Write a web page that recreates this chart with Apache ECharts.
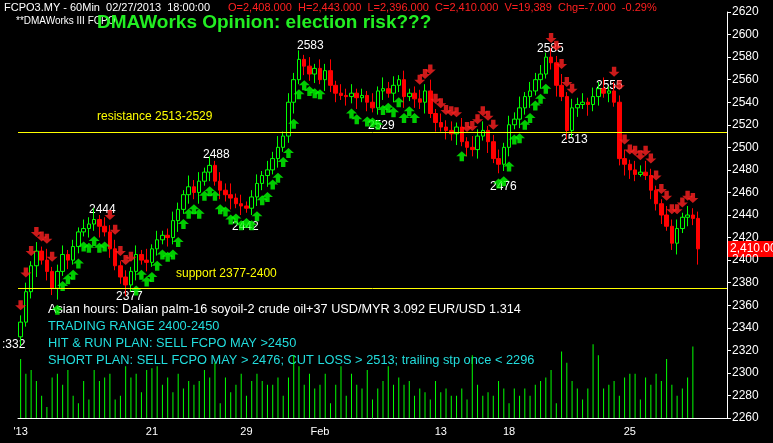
<!DOCTYPE html>
<html><head><meta charset="utf-8">
<script src="https://cdn.jsdelivr.net/npm/echarts@6/dist/echarts.min.js"></script>
<style>html,body{margin:0;padding:0;background:#000}#c{width:773px;height:443px}</style>
</head><body><div id="c"></div>
<script>
const closes = [2345,2372,2395,2408,2400,2390, 2375,2390,2405,2400,2412, 2425,2428,2432,2436,2430,2425,
 2410,2395,2385,2378,2390, 2405,2400,2398,2410,2418,2422, 2420,2435,2445,2458,2465,2460,
 2470,2478,2484,2470,2462, 2458,2455,2450,2448,2446,2456, 2468,2475,2480,2490,2500,2510,
 2540,2560,2578,2572,2565, 2570,2560,2568,2555,2548, 2546,2545,2548,2544,2546,2540,
 2535,2550,2552,2548,2555,2560, 2545,2548,2543,2540,2550,2530, 2522,2518,2515,2512,2518,2505,2500,
 2498,2510,2515,2505,2490,2485, 2500,2520,2525,2535,2545, 2550,2560,2565,2580,2575,
 2555,2545,2515,2535,2538, 2540,2538,2545,2552,2548,2550,2540, 2490,2485,2480,2476,2478,2475,
 2462,2450,2440,2430,2415, 2428,2438,2440,2437,2410];
const opens0 = 2332;
const wickUp = ("3424252342"+"3243524342"+"3242524234"+"3253424243"+"5242342435"+"2434242435"+"2434232425"+
  "3424234352"+"4342425342"+"3424352434"+"2435243424"+"352434243532"+"24342433").split('').map(Number);
const wickDn = ("4235243524"+"2324352423"+"5342423243"+"5243524243"+"5242343524"+"2352434253"+"4243524234"+
  "2435243524"+"2435243425"+"2434243524"+"2352434253"+"424235431243"+"42352437").split('').map(Number);
const signals = "DDDDDDDUUUUUUUUUUDDDDDUUUUUUUUUUUUUUUUUUUUUUUUUUUUUUUUUUUU00000UU0UUUUUUUUUUDDDDDDDDUDDDDDDUUUUUUUUUUDDDDD0000000DDDDDDDDDDDDDDDD";
const volumes = [16000,12000,13000,10000,6000,3000,11000,12000,9000,13000,6000,4000,10000,5000,13000,10000,11000,12000,5000,6000,
 14000,11000,12000,7000,13000,13500,14000,9000,11000,7000,12000,8000,10000,9000,10000,13000,11000,15000,4000,11000,
 7000,9000,12000,6000,10000,12000,10000,9000,9000,11000,6000,11000,17000,14000,9000,12000,8000,9000,12000,4000,
 9000,14000,6000,12000,9000,8000,13000,5000,8000,10000,14000,9000,11000,9000,10000,6000,8000,7000,5000,10000,
 7000,8000,6000,6000,8000,5000,17000,9000,6000,7000,6000,10000,8000,4000,8000,6000,8000,6000,9000,10000,
 11000,13000,4000,18000,15000,10000,8000,5000,8000,20000,17000,8000,9000,10000,6000,11000,12000,12000,5000,11000,
 9000,12000,10000,16000,9000,6000,8000,11000,19389];
const dateLabels = {0:"'13",25:"21",43:"29",57:"Feb",80:"13",93:"18",116:"25"};
const padBars = 5;
const categories = Array.from({length: closes.length + padBars}, (_, i) => dateLabels[i] || "");

const ohlc = closes.map((c,i)=>{
  const o = i===0 ? opens0 : closes[i-1];
  const h = Math.max(o,c) + 2*wickUp[i];
  const l = Math.min(o,c) - 2*wickDn[i];
  return [o,c,l,h];
});
const upArrows = [], dnArrows = [];
ohlc.forEach((d,i)=>{
  if (signals[i]==='U') upArrows.push([i, d[2]-9]);
  if (signals[i]==='D') dnArrows.push([i, d[3]+9]);
});
const arrow = 'path://M5,0 L10,5 L7,5 L7,10 L3,10 L3,5 L0,5 Z';

const chart = echarts.init(document.getElementById('c'));
const txt = (x,y,t,fill,size)=>({type:'text',left:x,top:y,style:{text:t,fill:fill,font:(size||12)+'px "Liberation Sans", Arial'}});
chart.setOption({
  backgroundColor:'#000',
  animation:false,
  grid:[{left:18,right:46,top:12,bottom:25},{left:18,right:46,top:12,bottom:25}],
  xAxis:[
    {type:'category',data:categories,gridIndex:0,boundaryGap:true,
     axisLine:{lineStyle:{color:'#fff'}},
     axisTick:{alignWithLabel:true,interval:(i,v)=>v!=="",lineStyle:{color:'#fff'}},
     axisLabel:{interval:0,color:'#fff',fontSize:11,fontFamily:'Liberation Sans'},splitLine:{show:false}},
    {type:'category',data:categories,gridIndex:1,show:false}
  ],
  yAxis:[
    {type:'value',position:'right',min:2260,max:2620,interval:20,gridIndex:0,
     axisLine:{show:true,lineStyle:{color:'#fff'}},axisTick:{show:true,length:4,lineStyle:{color:'#fff'}},
     axisLabel:{color:'#fff',fontSize:12,fontFamily:'Liberation Sans',margin:5,formatter:v=>String(v)},splitLine:{show:false}},
    {type:'value',min:0,max:110000,gridIndex:1,show:false,splitLine:{show:false}}
  ],
  series:[
    {type:'bar',xAxisIndex:1,yAxisIndex:1,data:volumes,barWidth:1,itemStyle:{color:'#00ff00'}},
    {type:'candlestick',data:ohlc,barWidth:4,
     itemStyle:{color:'#000',color0:'#ff0000',borderColor:'#00ff00',borderColor0:'#ff0000',borderWidth:1},
     markLine:{silent:true,symbol:'none',label:{show:false},lineStyle:{color:'#ffff00',type:'solid',width:1},
       data:[{yAxis:2513},{yAxis:2375}]}},
    {type:'scatter',data:upArrows,symbol:arrow,symbolSize:[11,10],itemStyle:{color:'#00ff00'}},
    {type:'scatter',data:dnArrows,symbol:arrow,symbolRotate:180,symbolSize:[11,10],itemStyle:{color:'#ff2020'}}
  ],
  graphic:[
    txt(4,2,'FCPO3.MY - 60Min  02/27/2013  18:00:00','#fff',11),
    txt(228,2,'O=2,408.000  H=2,443.000  L=2,396.000  C=2,410.000  V=19,389  Chg=-7.000  -0.29%','#ff2020',11),
    txt(16,16,'**DMAWorks III FCPO','#fff',10),
    {type:'text',left:97,top:13,style:{text:'DMAWorks Opinion: election risk???',fill:'#22ee22',font:'bold 19px "Liberation Sans", Arial'}},
    txt(97,111,'resistance 2513-2529','#ffff00',12),
    txt(176,268,'support 2377-2400','#ffff00',12),
    txt(48,303,'Asian hours: Dalian palm-16 soyoil-2 crude oil+37 USD/MYR 3.092 EUR/USD 1.314','#fff',12.7),
    txt(48,320,'TRADING RANGE 2400-2450','#22dddd',12.8),
    txt(48,337,'HIT & RUN PLAN: SELL FCPO MAY >2450','#22dddd',12.8),
    txt(48,354,'SHORT PLAN: SELL FCPO MAY > 2476; CUT LOSS > 2513; trailing stp once < 2296','#22dddd',12.8),
    txt(2,339,':332','#fff',12),
    txt(297,40,'2583','#fff',12), txt(537,43,'2585','#fff',12), txt(596,80,'2555','#fff',12),
    txt(368,120,'2529','#fff',12), txt(561,134,'2513','#fff',12), txt(490,181,'2476','#fff',12),
    txt(203,149,'2488','#fff',12), txt(89,204,'2444','#fff',12), txt(232,221,'2442','#fff',12),
    txt(116,291,'2377','#fff',12),
    {type:'rect',left:728,top:241,shape:{width:45,height:16},style:{fill:'#ff0000'}},
    txt(730,243,'2,410.00','#fff',12)
  ]
});
</script></body></html>
